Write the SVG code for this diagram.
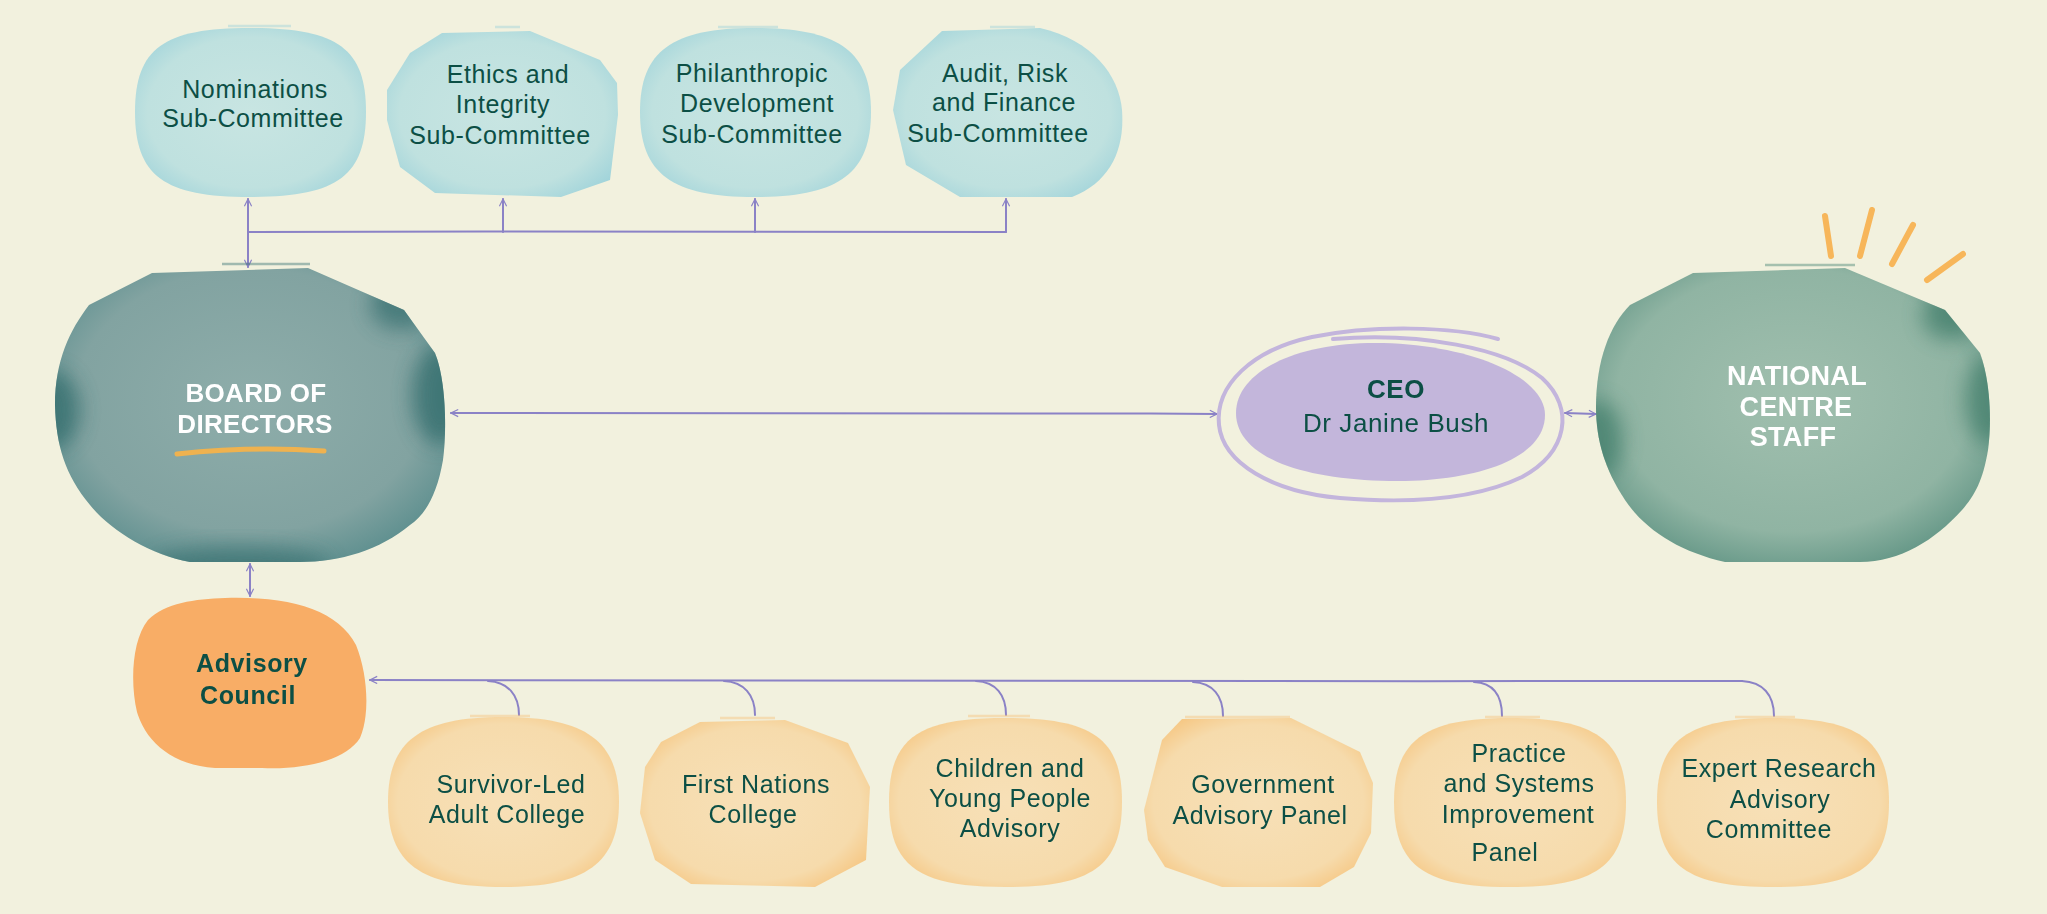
<svg xmlns="http://www.w3.org/2000/svg" width="2047" height="914" viewBox="0 0 2047 914">
<style>
.t{font-family:"Liberation Sans",Arial,sans-serif;font-size:25px;fill:#0c4f45;text-anchor:middle;letter-spacing:0.6px}
.b{font-weight:bold}
.w{font-family:"Liberation Sans",Arial,sans-serif;font-size:26px;font-weight:bold;fill:#ffffff;text-anchor:middle;letter-spacing:0.3px}
.c{fill:none;stroke:#8b82c6;stroke-width:2;stroke-linecap:round}
.ray{fill:none;stroke:#f7b65a;stroke-width:6;stroke-linecap:round}
.blue{fill:url(#gBlue)}
.teal{fill:url(#gTeal)}
.green{fill:url(#gGreen)}
.peach{fill:url(#gPeach)}
.streak{stroke-width:2.5;opacity:0.45}
.spot{filter:url(#soft)}
</style>
<defs>
<radialGradient id="gBlue" cx="0.5" cy="0.5" r="0.62">
<stop offset="0" stop-color="#c8e5e2"/><stop offset="0.72" stop-color="#bfe1df"/><stop offset="1" stop-color="#9fd3da"/>
</radialGradient>
<radialGradient id="gTeal" cx="0.5" cy="0.45" r="0.64">
<stop offset="0" stop-color="#8eadaa"/><stop offset="0.7" stop-color="#82a3a1"/><stop offset="1" stop-color="#568b8b"/>
</radialGradient>
<radialGradient id="gGreen" cx="0.5" cy="0.45" r="0.64">
<stop offset="0" stop-color="#a0bfae"/><stop offset="0.7" stop-color="#90b4a3"/><stop offset="1" stop-color="#5a9080"/>
</radialGradient>
<radialGradient id="gPeach" cx="0.5" cy="0.5" r="0.62">
<stop offset="0" stop-color="#f7e0b7"/><stop offset="0.74" stop-color="#f6dbac"/><stop offset="1" stop-color="#f6c47d"/>
</radialGradient>
<filter id="soft" x="-50%" y="-50%" width="200%" height="200%"><feGaussianBlur stdDeviation="10"/></filter>
<clipPath id="clipBoard"><path d="M152 273 L308 268 L404 310 L435 353 C446 380 447 430 443 460 C437 495 425 515 410 525 C380 550 340 562 300 562 L190 562 C150 555 110 530 90 505 C65 475 56 445 55 405 C55 360 70 330 89 305 Z"/></clipPath>
<clipPath id="clipStaff"><path d="M1693 273 L1845 268 L1945 310 L1980 353 C1990 380 1992 420 1988 450 C1983 480 1975 495 1962 510 C1935 540 1900 562 1860 562 L1725 562 C1680 552 1645 530 1625 500 C1605 470 1596 440 1596 407 C1596 360 1610 325 1630 305 Z"/></clipPath>
<marker id="arr" viewBox="0 0 10 10" refX="9" refY="5" markerWidth="9" markerHeight="9" markerUnits="userSpaceOnUse" orient="auto-start-reverse">
<path d="M1 1 L9 5 L1 9" fill="none" stroke="#8b82c6" stroke-width="1.3"/>
</marker>
</defs>
<rect width="2047" height="914" fill="#f2f1de"/>

<g id="connectors">
<path class="c" d="M248 267 L248 199" marker-start="url(#arr)" marker-end="url(#arr)"/>
<path class="c" d="M248 232 C500 230 700 234 1006 232"/>
<path class="c" d="M503 232 L503 199" marker-end="url(#arr)"/>
<path class="c" d="M755 232 L755 199" marker-end="url(#arr)"/>
<path class="c" d="M1006 232 L1006 199" marker-end="url(#arr)"/>
<path class="c" d="M451 413 C800 415 1000 412 1217 414" marker-start="url(#arr)" marker-end="url(#arr)"/>
<path class="c" d="M1565 413 L1596 414" marker-start="url(#arr)" marker-end="url(#arr)"/>
<path class="c" d="M250 564 L250 596" marker-start="url(#arr)" marker-end="url(#arr)"/>
<path class="c" d="M1742 681 C1300 682 900 679 370 680" marker-end="url(#arr)"/>
<path class="c" d="M488 681 C508 682 519 695 519 715"/>
<path class="c" d="M724 681 C744 682 755 695 755 715"/>
<path class="c" d="M976 681 C996 682 1006 695 1006 715"/>
<path class="c" d="M1193 682 C1213 683 1223 696 1223 716"/>
<path class="c" d="M1474 682 C1494 683 1502 696 1502 716"/>
<path class="c" d="M1742 681 C1763 682 1774 695 1774 716"/>
</g>

<g id="nominations">
<line class="streak" x1="228" y1="26" x2="291" y2="26" stroke="#9fd3db"/>
<path class="blue" d="M250 28 C337 28 366 48 366 112 C366 176 337 197 250 197 C164 197 135 176 135 112 C135 48 164 28 250 28 Z"/>
<text class="t" x="255" y="98">Nominations</text>
<text class="t" x="253" y="127">Sub-Committee</text>
</g>

<g id="ethics">
<line class="streak" x1="495" y1="27" x2="520" y2="27" stroke="#9fd3db"/>
<path class="blue" d="M442 33 L530 31 L600 60 L617 83 L618 115 L610 180 L561 197 L435 193 L400 167 L387 120 L387 90 L410 53 Z"/>
<text class="t" x="508" y="83">Ethics and</text>
<text class="t" x="503" y="113">Integrity</text>
<text class="t" x="500" y="144">Sub-Committee</text>
</g>

<g id="philanthropic">
<line class="streak" x1="718" y1="27" x2="778" y2="27" stroke="#9fd3db"/>
<path class="blue" d="M755 28 C838 28 871 51 871 112 C871 174 838 197 755 197 C672 197 640 174 640 112 C640 51 672 28 755 28 Z"/>
<text class="t" x="752" y="82">Philanthropic</text>
<text class="t" x="757" y="112">Development</text>
<text class="t" x="752" y="143">Sub-Committee</text>
</g>

<g id="audit">
<line class="streak" x1="990" y1="27" x2="1035" y2="27" stroke="#9fd3db"/>
<path class="blue" d="M942 31 L1040 28 C1092 40 1119 75 1122 110 C1125 150 1110 182 1072 197 L960 197 L906 165 L893 110 L900 70 Z"/>
<text class="t" x="1005" y="82">Audit, Risk</text>
<text class="t" x="1004" y="111">and Finance</text>
<text class="t" x="998" y="142">Sub-Committee</text>
</g>

<g id="board">
<line class="streak" x1="222" y1="264" x2="310" y2="264" stroke="#3f7677"/>
<path class="teal" d="M152 273 L308 268 L404 310 L435 353 C446 380 447 430 443 460 C437 495 425 515 410 525 C380 550 340 562 300 562 L190 562 C150 555 110 530 90 505 C65 475 56 445 55 405 C55 360 70 330 89 305 Z"/>
<g clip-path="url(#clipBoard)" opacity="0.75">
<ellipse class="spot" cx="52" cy="410" rx="28" ry="40" fill="#2f6a6a"/>
<ellipse class="spot" cx="440" cy="395" rx="28" ry="50" fill="#2f6a6a"/>
<ellipse class="spot" cx="400" cy="305" rx="30" ry="25" fill="#3a7272"/>
<ellipse class="spot" cx="240" cy="565" rx="90" ry="18" fill="#3a7272"/>
</g>
<text class="w" x="256" y="402">BOARD OF</text>
<text class="w" x="255" y="433">DIRECTORS</text>
<path d="M177 454 Q250 446 324 451" fill="none" stroke="#efb24f" stroke-width="5" stroke-linecap="round"/>
</g>

<g id="ceo">
<path d="M1375 343 C1465 343 1545 375 1545 415 C1545 458 1478 481 1398 481 C1305 481 1236 458 1236 413 C1236 372 1295 343 1375 343 Z" fill="#c3b6db"/>
<path d="M1333 339 C1420 332 1505 348 1542 378 C1575 408 1568 452 1522 477 C1470 502 1400 503 1340 498 C1272 492 1223 463 1219 425 C1215 385 1252 350 1312 337 C1372 325 1452 326 1498 339" fill="none" stroke="#c3b5dc" stroke-width="4" stroke-linecap="round"/>
<text class="t b" x="1396" y="398" style="font-size:26px">CEO</text>
<text class="t" x="1396" y="432" style="font-size:26px">Dr Janine Bush</text>
</g>

<g id="staff">
<line class="streak" x1="1765" y1="265" x2="1855" y2="265" stroke="#4a8575"/>
<path class="green" d="M1693 273 L1845 268 L1945 310 L1980 353 C1990 380 1992 420 1988 450 C1983 480 1975 495 1962 510 C1935 540 1900 562 1860 562 L1725 562 C1680 552 1645 530 1625 500 C1605 470 1596 440 1596 407 C1596 360 1610 325 1630 305 Z"/>
<g clip-path="url(#clipStaff)" opacity="0.7">
<ellipse class="spot" cx="1598" cy="440" rx="25" ry="40" fill="#3c7a68"/>
<ellipse class="spot" cx="1990" cy="400" rx="25" ry="45" fill="#3c7a68"/>
<ellipse class="spot" cx="1950" cy="315" rx="28" ry="25" fill="#3c7a68"/>
</g>
<text class="w" x="1797" y="385" style="font-size:27px">NATIONAL</text>
<text class="w" x="1796" y="416" style="font-size:27px">CENTRE</text>
<text class="w" x="1793" y="446" style="font-size:27px">STAFF</text>
<line class="ray" x1="1825" y1="216" x2="1831" y2="256"/>
<line class="ray" x1="1872" y1="210" x2="1860" y2="256"/>
<line class="ray" x1="1913" y1="225" x2="1892" y2="264"/>
<line class="ray" x1="1963" y1="254" x2="1927" y2="280"/>
</g>

<g id="advisory-council">
<path d="M225 598 C290 596 338 610 356 645 C368 675 370 715 360 738 C346 760 305 770 262 768 L215 768 C172 765 146 742 137 712 C130 682 132 640 148 620 C165 603 195 599 225 598 Z" fill="#f8ad66"/>
<text class="t b" x="252" y="672">Advisory</text>
<text class="t b" x="248" y="704">Council</text>
</g>

<g id="survivor">
<line class="streak" x1="470" y1="716" x2="530" y2="716" stroke="#f6c47d"/>
<path class="peach" d="M503 717 C586 717 619 741 619 802 C619 863 586 887 503 887 C420 887 388 863 388 802 C388 741 420 717 503 717 Z"/>
<text class="t" x="511" y="793">Survivor-Led</text>
<text class="t" x="507" y="823">Adult College</text>
</g>

<g id="first-nations">
<line class="streak" x1="720" y1="718" x2="775" y2="718" stroke="#f6c47d"/>
<path class="peach" d="M700 722 L785 720 L848 743 L870 787 L866 860 L815 887 L691 884 L655 860 L640 813 L645 767 L661 742 Z"/>
<text class="t" x="756" y="793">First Nations</text>
<text class="t" x="753" y="823">College</text>
</g>

<g id="children">
<line class="streak" x1="968" y1="716" x2="1030" y2="716" stroke="#f6c47d"/>
<path class="peach" d="M1005 718 C1092 718 1122 738 1122 802 C1122 866 1092 887 1005 887 C918 887 889 866 889 802 C889 738 918 718 1005 718 Z"/>
<text class="t" x="1010" y="777">Children and</text>
<text class="t" x="1010" y="807">Young People</text>
<text class="t" x="1010" y="837">Advisory</text>
</g>

<g id="government">
<line class="streak" x1="1185" y1="717" x2="1290" y2="717" stroke="#f6c47d"/>
<path class="peach" d="M1182 719 L1291 718 L1360 752 L1373 783 L1371 833 L1354 867 L1320 887 L1222 887 L1165 867 L1148 840 L1144 810 L1162 740 Z"/>
<text class="t" x="1263" y="793">Government</text>
<text class="t" x="1260" y="824">Advisory Panel</text>
</g>

<g id="practice">
<line class="streak" x1="1485" y1="717" x2="1540" y2="717" stroke="#f6c47d"/>
<path class="peach" d="M1510 718 C1595 718 1626 740 1626 802 C1626 866 1595 887 1510 887 C1425 887 1394 866 1394 802 C1394 740 1425 718 1510 718 Z"/>
<text class="t" x="1519" y="762">Practice</text>
<text class="t" x="1519" y="792">and Systems</text>
<text class="t" x="1518" y="823">Improvement</text>
<text class="t" x="1505" y="861">Panel</text>
</g>

<g id="expert">
<line class="streak" x1="1735" y1="717" x2="1795" y2="717" stroke="#f6c47d"/>
<path class="peach" d="M1773 718 C1858 718 1889 740 1889 802 C1889 866 1858 887 1773 887 C1688 887 1657 866 1657 802 C1657 740 1688 718 1773 718 Z"/>
<text class="t" x="1779" y="777">Expert Research</text>
<text class="t" x="1780" y="808">Advisory</text>
<text class="t" x="1769" y="838">Committee</text>
</g>
</svg>
